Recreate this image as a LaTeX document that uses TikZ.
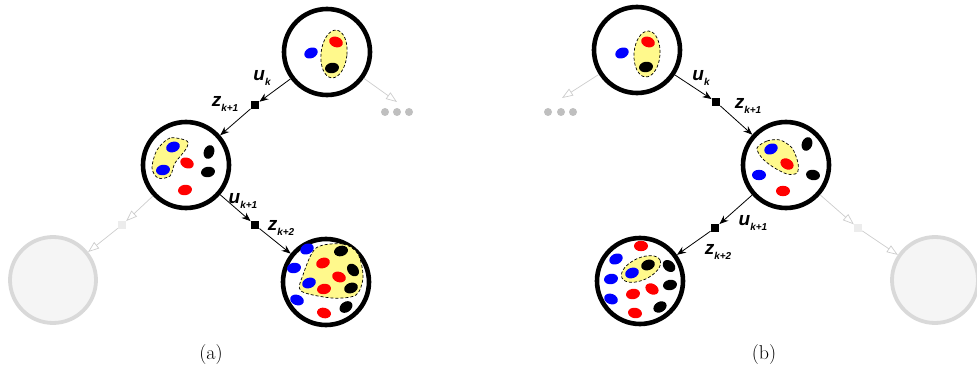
\documentclass[tikz,border=0pt]{standalone}
\usepackage{fontspec}
\newfontfamily\lblfont{Liberation Sans}
\usetikzlibrary{arrows.meta,positioning,shapes.geometric}
\tikzset{
  state/.style     = {circle, draw=black, line width=4.6pt, fill=white,
                      minimum size=86pt, inner sep=0pt},
  ghost/.style     = {circle, draw=gray!30, line width=3.8pt, fill=gray!8,
                      minimum size=86pt, inner sep=0pt},
  obs/.style       = {rectangle, fill=black, inner sep=0pt, minimum size=8.5pt},
  ghostobs/.style  = {rectangle, fill=gray!15, inner sep=0pt, minimum size=8pt},
  arr/.style       = {-{Stealth[length=9pt,width=7pt]}, line width=0.8pt},
  ghostarr/.style  = {-{Triangle[open,length=11pt,width=8pt]}, draw=gray!40, line width=0.7pt},
  blob/.style      = {draw=black, densely dashed, line width=0.7pt, fill=yellow!45},
  lbl/.style       = {inner sep=0pt},
  caption/.style   = {font=\fontsize{20}{24}\selectfont},
  more/.style      = {circle, fill=gray!50, inner sep=0pt, minimum size=8pt},
}
\newcommand{\tokdot}[4]{\fill[#1, rotate around={#4:(#2,#3)}] (#2,#3) ellipse (7 and 5.2);}
\newcommand{\lab}[2]{{\lblfont\bfseries\itshape\fontsize{19}{19}\selectfont #1\raisebox{-4.5pt}{\fontsize{10}{10}\selectfont #2}}}

\begin{document}
\begin{tikzpicture}[x=1pt,y=-1pt]
  \useasboundingbox (0,0) rectangle (977,374);

  % ---------------- (a) -------------------------------------------------
  \node[state] (A1) at (327,52) {};
  \node[state] (A2) at (186,165) {};
  \node[state] (A3) at (326,282) {};
  \node[obs] (SA1) at (255,105) {};
  \node[obs] (SA2) at (255,225) {};
  \node[ghost] (GA0) at (53,280) {};
  \node[ghostobs] (GA) at (122,225) {};
  \coordinate (gae) at (397,102);
  \node[more] (ma1) at (385,112) {};
  \node[more] (ma2) at (397,112) {};
  \node[more] (ma3) at (409,112) {};

  \draw[blob,rotate around={-6:(334,54)}] (334,54) ellipse (13 and 24);
  \tokdot{blue}{311}{53}{25}
  \tokdot{red}{336}{42}{-20}
  \tokdot{black}{332}{68}{10}

  \draw[blob] plot[smooth cycle] coordinates {(187,141) (170,138) (157,150) (152,168)
    (158,178) (170,176) (175,163) (186,149)};
  \tokdot{blue}{173}{147}{20}
  \tokdot{blue}{163}{170}{10}
  \tokdot{red}{187}{163}{-25}
  \tokdot{red}{185}{190}{10}
  \tokdot{black}{209}{152}{70}
  \tokdot{black}{208}{172}{10}

  \draw[blob] plot[smooth cycle] coordinates {(316,248) (343,244) (358,254) (363,277)
    (356,295) (332,298) (301,291) (303,275)};
  \tokdot{blue}{307}{249}{25}
  \tokdot{blue}{294}{268}{10}
  \tokdot{blue}{309}{283}{20}
  \tokdot{blue}{297}{300}{-20}
  \tokdot{red}{323}{263}{20}
  \tokdot{red}{339}{277}{-20}
  \tokdot{red}{324}{289}{10}
  \tokdot{red}{324}{313}{-15}
  \tokdot{black}{341}{251}{15}
  \tokdot{black}{353}{270}{-50}
  \tokdot{black}{351}{288}{20}
  \tokdot{black}{346}{307}{35}

  \draw[arr] (A1) -- (SA1);
  \draw[arr] (SA1) -- (A2);
  \draw[arr] (A2) -- (SA2);
  \draw[arr] (SA2) -- (A3);
  \draw[ghostarr] (A1) -- (gae);
  \draw[ghostarr] (A2) -- (GA);
  \draw[ghostarr] (GA) -- (GA0);

  \node[lbl] (ua1) at (262,78) {\lab{u}{k}};
  \node[lbl] (za1) at (225,104) {\lab{z}{k+1}};
  \node[lbl] (ua2) at (243,201) {\lab{u}{k+1}};
  \node[lbl] (za2) at (281,228) {\lab{z}{k+2}};
  \node[caption] (capa) at (211,355) {(a)};

  % ---------------- (b) -------------------------------------------------
  \node[state] (B1) at (637,50) {};
  \node[state] (B2) at (786,165) {};
  \node[state] (B3) at (640,281) {};
  \node[obs] (SB1) at (716,102) {};
  \node[obs] (SB2) at (715,228) {};
  \node[ghost] (GB0) at (935,280) {};
  \node[ghostobs] (GB) at (858,228) {};
  \coordinate (gbe) at (562,98);
  \node[more] (mb1) at (548,112) {};
  \node[more] (mb2) at (561,112) {};
  \node[more] (mb3) at (573,112) {};

  \draw[blob,rotate around={-4:(647,54)}] (647,54) ellipse (13 and 23);
  \tokdot{blue}{622}{53}{25}
  \tokdot{red}{648}{42}{-20}
  \tokdot{black}{646}{67}{10}

  \draw[blob] plot[smooth cycle] coordinates {(757,148) (767,141) (780,140) (792,148)
    (798,163) (797,173) (787,174) (773,167) (762,158)};
  \tokdot{blue}{771}{149}{25}
  \tokdot{blue}{759}{175}{0}
  \tokdot{red}{787}{164}{-30}
  \tokdot{red}{783}{191}{0}
  \tokdot{black}{807}{144}{70}
  \tokdot{black}{813}{175}{-10}

  \draw[blob,rotate around={25:(641,269)}] (641,269) ellipse (21 and 11);
  \tokdot{red}{641}{246}{0}
  \tokdot{blue}{616}{259}{25}
  \tokdot{black}{648}{265}{20}
  \tokdot{blue}{632}{273}{20}
  \tokdot{black}{669}{266}{-40}
  \tokdot{blue}{611}{279}{10}
  \tokdot{black}{670}{285}{10}
  \tokdot{red}{652}{289}{-30}
  \tokdot{red}{633}{294}{10}
  \tokdot{blue}{611}{299}{-20}
  \tokdot{black}{660}{307}{30}
  \tokdot{red}{635}{313}{-10}

  \draw[arr] (B1) -- (SB1);
  \draw[arr] (SB1) -- (B2);
  \draw[arr] (B2) -- (SB2);
  \draw[arr] (SB2) -- (B3);
  \draw[ghostarr] (B1) -- (gbe);
  \draw[ghostarr] (B2) -- (GB);
  \draw[ghostarr] (GB) -- (GB0);

  \node[lbl] (ub1) at (701,78) {\lab{u}{k}};
  \node[lbl] (zb1) at (748,106) {\lab{z}{k+1}};
  \node[lbl] (ub2) at (753,223) {\lab{u}{k+1}};
  \node[lbl] (zb2) at (718,252) {\lab{z}{k+2}};
  \node[caption] (capb) at (764,355) {(b)};
\end{tikzpicture}
\end{document}
